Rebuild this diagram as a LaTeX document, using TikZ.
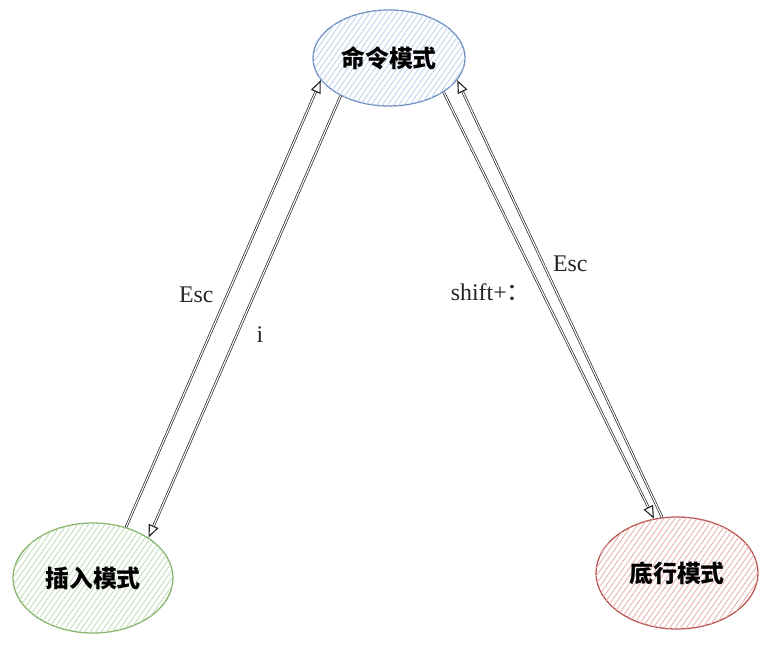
\documentclass[tikz,border=0pt]{standalone}
\usepackage{fontspec}
\setmainfont{Liberation Serif}
\newfontfamily\cjk{Noto Sans CJK SC}
\definecolor{cmdDraw}{HTML}{6C8EBF}
\definecolor{cmdFill}{HTML}{DAE8FC}
\definecolor{insDraw}{HTML}{82B366}
\definecolor{insFill}{HTML}{D5E8D4}
\definecolor{botDraw}{HTML}{B85450}
\definecolor{botFill}{HTML}{F8CECC}
\usetikzlibrary{arrows.meta,positioning,shapes.geometric,patterns.meta}

\begin{document}
\begin{tikzpicture}[
    mode/.style={ellipse, draw=#1Draw, line width=0.9pt, inner sep=0pt,
                 fill=white,
                 postaction={pattern={Lines[angle=55, distance=3.2pt, line width=0.6pt]},
                             pattern color=#1Fill!75!#1Draw},
                 font=\cjk\bfseries\fontsize{17}{20}\selectfont},
    arr/.style={-{Triangle[open, length=3.2mm, width=2.6mm, line width=0.8pt]},
                line width=0.5pt, double=white, double distance=0.8pt, black!85},
    lbl/.style={font=\fontsize{17}{20}\selectfont, inner sep=1pt}
  ]
    \useasboundingbox (0,0) rectangle (19.375,16.275);

    \node[mode=cmd, minimum width=3.8cm, minimum height=2.4cm] (cmd) at (9.725,14.825) {命令模式};
    \node[mode=ins, minimum width=4.0cm, minimum height=2.75cm] (ins) at (2.325,1.825) {插入模式};
    \node[mode=bot, minimum width=4.05cm, minimum height=2.8cm] (bot) at (16.925,1.95) {底行模式};

    % insert <-> command
    \draw[arr] (ins.57) -- node[lbl, pos=0.52, left=0.3cm] (escL) {Esc} (cmd.198);
    \draw[arr] (cmd.218) -- node[lbl, pos=0.54, right=0.45cm] (iL) {i} (ins.36);

    % command <-> last line
    \draw[arr] (cmd.-32) -- node[lbl, pos=0.47, left=0.25cm] (shiftL) {shift+\cjk：} (bot.113);
    \draw[arr] (bot.105) -- node[lbl, pos=0.58, right=0.2cm] (escR) {Esc} (cmd.-18);
  \end{tikzpicture}
\end{document}
